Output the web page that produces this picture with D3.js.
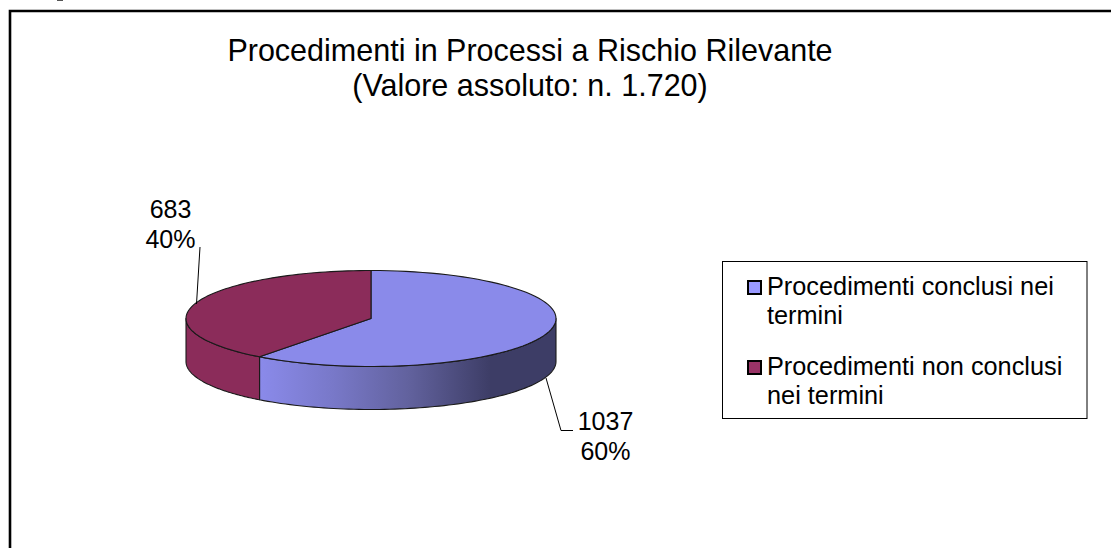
<!DOCTYPE html>
<html><head><meta charset="utf-8">
<script src="https://cdnjs.cloudflare.com/ajax/libs/d3/7.8.5/d3.min.js"></script>
<style>html,body{margin:0;padding:0;background:#fff}svg{display:block}text{font-family:"Liberation Sans",Arial,sans-serif;fill:#000}</style>
</head><body><svg id="c" width="1111" height="548"></svg>
<script>
const categories = ["Procedimenti conclusi nei termini", "Procedimenti non conclusi nei termini"];
const values = [1037, 683];
const percentLabels = ["60%", "40%"];
const topColors = ["#8a8aea", "#8b2c5a"];
const legendColors = ["#9999ff", "#993366"];
const legendLines = [["Procedimenti conclusi nei", "termini"], ["Procedimenti non conclusi", "nei termini"]];
const titleLines = ["Procedimenti in Processi a Rischio Rilevante", "(Valore assoluto: n. 1.720)"];

const svg = d3.select("#c");
const cx = 371, cy = 318.5, rx = 185, ry = 48, depth = 43;

const defs = svg.append("defs");
const g = defs.append("linearGradient").attr("id", "side").attr("gradientUnits", "userSpaceOnUse")
  .attr("x1", 260).attr("x2", 556).attr("y1", 0).attr("y2", 0);
[[0, "#8a8aea"], [0.25, "#7878c8"], [0.5, "#62629e"], [0.78, "#3d3d66"], [1, "#3d3d66"]].forEach(s =>
  g.append("stop").attr("offset", s[0]).attr("stop-color", s[1]));

// frame
svg.append("path").attr("d", "M10,548V11H1111").attr("fill", "none").attr("stroke", "#000").attr("stroke-width", 2.6);
svg.append("path").attr("d", "M57,0.5H63").attr("stroke", "#555").attr("stroke-width", 1);

// title
svg.append("text").attr("text-anchor", "middle").attr("font-size", 30.5)
  .selectAll("tspan").data(titleLines).join("tspan")
  .attr("x", 530).attr("y", (d, i) => 61 + i * 35).text(d => d);

// pie angles through d3.pie, projected on an ellipse
const pie = d3.pie().sort(null).value(d => d)(values);
const px = a => cx + rx * Math.sin(a), py = a => cy - ry * Math.cos(a);
const rim = (a0, a1, dy) => {
  const n = 80;
  return d3.range(n + 1).map(i => { const a = a0 + (a1 - a0) * i / n; return [px(a), py(a) + dy]; });
};
const line = d3.line();

// side walls (front half only: angles between PI/2 and 3PI/2)
pie.forEach((s, i) => {
  const a0 = Math.max(s.startAngle, Math.PI / 2), a1 = Math.min(s.endAngle, 3 * Math.PI / 2);
  if (a1 <= a0) return;
  const pts = rim(a0, a1, 0).concat(rim(a1, a0, depth));
  svg.append("path").attr("d", line(pts) + "Z")
    .attr("fill", i === 0 ? "url(#side)" : topColors[i])
    .attr("stroke", "#1a1a1a").attr("stroke-width", 1.1).attr("stroke-linejoin", "round");
});
// top faces
pie.forEach((s, i) => {
  const pts = [[cx, cy]].concat(rim(s.startAngle, s.endAngle, 0));
  svg.append("path").attr("d", line(pts) + "Z").attr("fill", topColors[i])
    .attr("stroke", "#1a1a1a").attr("stroke-width", 1.1).attr("stroke-linejoin", "round");
});

// leader lines
svg.append("path").attr("d", "M200,247L196.5,304").attr("fill", "none").attr("stroke", "#000").attr("stroke-width", 1);
svg.append("path").attr("d", "M546,378L561,430.5H573").attr("fill", "none").attr("stroke", "#000").attr("stroke-width", 1);

// data labels
const lab = [{x: 605.5, y: 430, i: 0}, {x: 170.5, y: 218, i: 1}];
lab.forEach(l => {
  svg.append("text").attr("text-anchor", "middle").attr("font-size", 25)
    .selectAll("tspan").data([String(values[l.i]), percentLabels[l.i]]).join("tspan")
    .attr("x", l.x).attr("y", (d, k) => l.y + k * 30).text(d => d);
});

// legend
svg.append("rect").attr("x", 722.5).attr("y", 261.5).attr("width", 364.5).attr("height", 157)
  .attr("fill", "#fff").attr("stroke", "#000").attr("stroke-width", 1);
const ly = [295, 375];
categories.forEach((c, i) => {
  svg.append("rect").attr("x", 748).attr("y", ly[i] - 14).attr("width", 13).attr("height", 13)
    .attr("fill", legendColors[i]).attr("stroke", "#000").attr("stroke-width", 2);
  svg.append("text").attr("font-size", 25.3)
    .selectAll("tspan").data(legendLines[i]).join("tspan")
    .attr("x", 767).attr("y", (d, k) => ly[i] + k * 29).text(d => d);
});
</script></body></html>
